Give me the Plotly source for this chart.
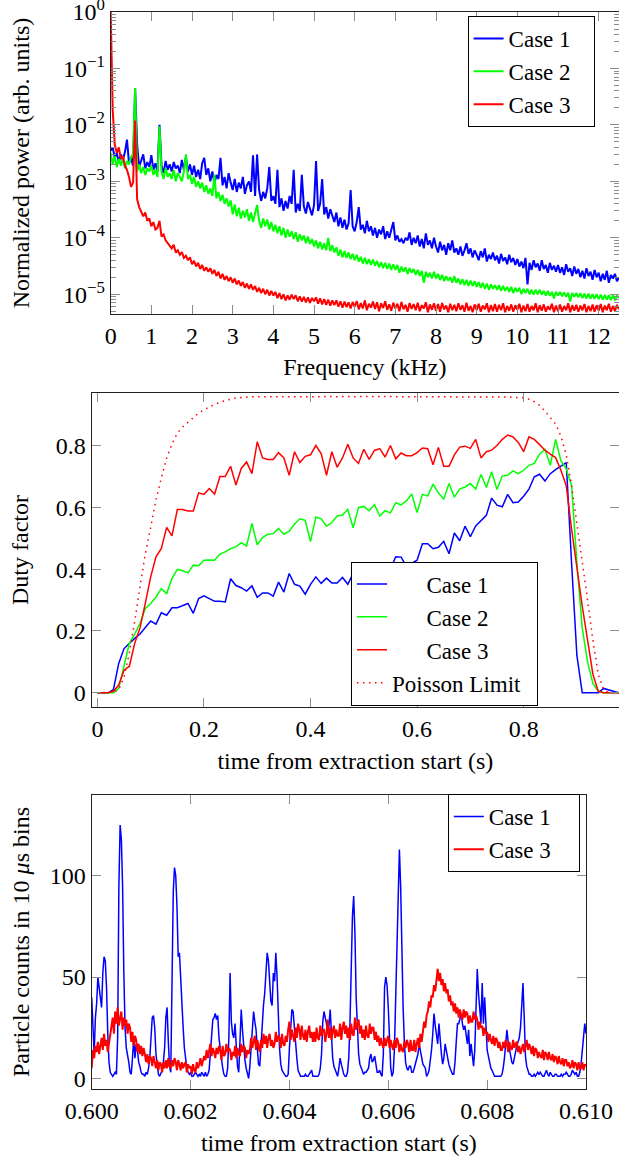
import numpy as np
import plotly.graph_objects as go

# ---------------- Panel 1: power spectra (0.05 kHz spacing) ----------------
case1_power = [
    3.5e-3, 4.0e-3, 2.6e-3, 3.2e-3, 2.2e-3, 3.0e-3, 2.4e-3, 3.3e-3, 5.5e-3, 2.1e-3,
    2.6e-3, 1.9e-3, 4.5e-2, 4.5e-3, 1.8e-3, 2.4e-3, 3.0e-3, 1.7e-3, 2.2e-3, 1.8e-3,
    2.9e-3, 1.6e-3, 2.1e-3, 1.5e-3, 1.0e-2, 1.9e-3, 1.4e-3, 2.3e-3, 1.6e-3, 2.0e-3,
    1.5e-3, 2.2e-3, 1.7e-3, 1.9e-3, 1.4e-3, 2.4e-3, 1.6e-3, 2.7e-3, 1.5e-3, 2.0e-3,
    1.3e-3, 1.9e-3, 1.2e-3, 1.6e-3, 1.1e-3, 2.1e-3, 2.6e-3, 1.3e-3, 1.7e-3, 1.0e-3,
    1.5e-3, 9.0e-4, 1.3e-3, 1.1e-3, 2.6e-3, 8.5e-4, 1.2e-3, 7.5e-4, 1.4e-3, 9.5e-4,
    7.0e-4, 1.1e-3, 6.5e-4, 9.5e-4, 7.5e-4, 1.2e-3, 6.0e-4, 8.5e-4, 1.0e-3, 6.5e-4,
    2.9e-3, 5.5e-4, 3.0e-3, 7.0e-4, 4.5e-4, 6.5e-4, 5.0e-4, 7.5e-4, 1.8e-3, 4.5e-4,
    5.5e-4, 4.0e-4, 1.6e-3, 3.5e-4, 5.0e-4, 3.0e-4, 4.5e-4, 3.3e-4, 5.5e-4, 4.0e-4,
    1.6e-3, 2.8e-4, 4.0e-4, 3.0e-4, 1.3e-3, 3.6e-4, 2.7e-4, 4.3e-4, 3.1e-4, 2.5e-4,
    3.8e-4, 2.3e-3, 3.0e-4, 4.0e-4, 1.1e-3, 2.6e-4, 3.5e-4, 2.2e-4, 3.2e-4, 2.4e-4,
    1.9e-4, 2.8e-4, 1.6e-4, 2.3e-4, 1.5e-4, 2.1e-4, 1.4e-4, 1.8e-4, 7.0e-4, 1.6e-4,
    1.3e-4, 1.9e-4, 3.5e-4, 1.4e-4, 1.7e-4, 1.2e-4, 2.0e-4, 1.3e-4, 1.6e-4, 1.1e-4,
    1.5e-4, 1.0e-4, 1.4e-4, 1.15e-4, 1.6e-4, 9.5e-5, 1.3e-4, 1.0e-4, 1.4e-4, 1.9e-4,
    9.0e-5, 1.1e-4, 8.5e-5, 9.5e-5, 8.0e-5, 1.0e-4, 9.0e-5, 1.25e-4, 7.5e-5, 1.0e-4,
    8.0e-5, 1.1e-4, 7.0e-5, 9.5e-5, 6.5e-5, 1.2e-4, 7.5e-5, 9.0e-5, 6.5e-5, 1.0e-4,
    7.0e-5, 5.5e-5, 8.5e-5, 6.0e-5, 7.5e-5, 5.0e-5, 8.0e-5, 6.0e-5, 9.0e-5, 5.5e-5,
    6.5e-5, 5.0e-5, 7.0e-5, 4.8e-5, 6.0e-5, 8.0e-5, 5.2e-5, 6.5e-5, 4.5e-5, 6.0e-5,
    5.0e-5, 4.0e-5, 5.8e-5, 4.5e-5, 6.5e-5, 3.8e-5, 5.0e-5, 4.2e-5, 5.5e-5, 4.0e-5,
    4.8e-5, 3.5e-5, 5.2e-5, 3.9e-5, 4.5e-5, 3.4e-5, 5.0e-5, 3.7e-5, 4.4e-5, 3.3e-5,
    4.2e-5, 3.1e-5, 3.8e-5, 2.9e-5, 4.4e-5, 1.5e-5, 3.6e-5, 2.7e-5, 4.0e-5, 3.0e-5,
    3.5e-5, 2.6e-5, 4.0e-5, 2.8e-5, 3.3e-5, 2.4e-5, 3.6e-5, 2.7e-5, 3.2e-5, 2.5e-5,
    3.3e-5, 2.4e-5, 3.0e-5, 2.2e-5, 3.4e-5, 2.5e-5, 2.9e-5, 2.1e-5, 3.1e-5, 2.3e-5,
    2.8e-5, 2.0e-5, 2.6e-5, 1.9e-5, 2.9e-5, 2.1e-5, 2.5e-5, 1.8e-5, 2.7e-5, 2.0e-5,
    2.4e-5, 1.7e-5, 2.3e-5, 1.8e-5, 2.6e-5, 1.6e-5, 2.2e-5, 1.9e-5, 2.3e-5, 1.7e-5,
    2.0e-5,
]
case2_power = [
    3.2e-3, 2.0e-3, 2.8e-3, 1.8e-3, 2.5e-3, 1.9e-3, 2.6e-3, 1.7e-3, 2.3e-3, 2.0e-3,
    2.7e-3, 3.0e-3, 4.5e-2, 1.5e-3, 2.0e-3, 1.4e-3, 1.8e-3, 1.3e-3, 1.7e-3, 1.5e-3,
    1.9e-3, 1.3e-3, 1.6e-3, 1.2e-3, 9.5e-3, 1.5e-3, 1.1e-3, 1.7e-3, 1.2e-3, 1.4e-3,
    1.1e-3, 1.6e-3, 1.0e-3, 1.4e-3, 1.2e-3, 1.0e-3, 1.5e-3, 3.0e-3, 1.1e-3, 1.3e-3,
    9.0e-4, 1.2e-3, 8.0e-4, 1.0e-3, 7.5e-4, 9.5e-4, 6.5e-4, 8.5e-4, 6.0e-4, 7.5e-4,
    5.5e-4, 1.3e-3, 5.0e-4, 6.5e-4, 4.5e-4, 5.8e-4, 4.0e-4, 5.0e-4, 3.6e-4, 4.6e-4,
    2.6e-4, 3.9e-4, 2.4e-4, 3.4e-4, 2.2e-4, 3.0e-4, 2.3e-4, 3.2e-4, 2.0e-4, 2.8e-4,
    1.9e-4, 2.6e-4, 3.8e-4, 2.0e-4, 1.5e-4, 2.2e-4, 1.6e-4, 2.1e-4, 1.4e-4, 1.9e-4,
    1.3e-4, 1.7e-4, 1.2e-4, 1.6e-4, 1.1e-4, 1.5e-4, 1.0e-4, 1.4e-4, 1.05e-4, 1.3e-4,
    9.5e-5, 1.25e-4, 8.5e-5, 1.15e-4, 9.0e-5, 1.1e-4, 8.0e-5, 1.05e-4, 7.8e-5, 9.5e-5,
    7.0e-5, 9.0e-5, 6.5e-5, 8.5e-5, 6.2e-5, 8.0e-5, 6.0e-5, 1.0e-4, 5.8e-5, 7.4e-5,
    5.5e-5, 6.8e-5, 4.8e-5, 6.2e-5, 4.5e-5, 5.8e-5, 4.4e-5, 5.5e-5, 4.2e-5, 5.2e-5,
    4.0e-5, 5.0e-5, 3.8e-5, 4.6e-5, 3.5e-5, 4.4e-5, 3.4e-5, 4.2e-5, 3.3e-5, 4.1e-5,
    3.2e-5, 3.9e-5, 3.0e-5, 3.7e-5, 2.9e-5, 3.6e-5, 2.8e-5, 3.5e-5, 2.7e-5, 3.4e-5,
    2.7e-5, 3.3e-5, 2.4e-5, 3.1e-5, 2.5e-5, 3.0e-5, 2.3e-5, 2.9e-5, 2.4e-5, 2.8e-5,
    2.2e-5, 2.7e-5, 2.1e-5, 2.6e-5, 1.6e-5, 2.5e-5, 2.0e-5, 2.4e-5, 1.9e-5, 2.5e-5,
    1.9e-5, 2.3e-5, 1.8e-5, 2.2e-5, 1.7e-5, 2.1e-5, 1.75e-5, 2.0e-5, 1.6e-5, 2.1e-5,
    1.6e-5, 1.9e-5, 1.5e-5, 1.85e-5, 1.45e-5, 1.8e-5, 1.4e-5, 1.75e-5, 1.4e-5, 1.7e-5,
    1.35e-5, 1.65e-5, 1.3e-5, 1.6e-5, 1.25e-5, 1.55e-5, 1.2e-5, 1.5e-5, 1.25e-5, 1.45e-5,
    1.2e-5, 1.45e-5, 1.15e-5, 1.4e-5, 1.15e-5, 1.35e-5, 1.1e-5, 1.35e-5, 1.05e-5, 1.3e-5,
    1.1e-5, 1.3e-5, 1.0e-5, 1.25e-5, 1.05e-5, 1.25e-5, 1.0e-5, 1.2e-5, 9.8e-6, 1.2e-5,
    1.0e-5, 1.2e-5, 9.8e-6, 1.15e-5, 9.5e-6, 1.15e-5, 9.4e-6, 1.1e-5, 8.4e-6, 1.1e-5,
    9.5e-6, 1.1e-5, 9.2e-6, 1.08e-5, 9.0e-6, 1.06e-5, 7.4e-6, 1.05e-5, 9.0e-6, 1.05e-5,
    8.8e-6, 1.04e-5, 8.6e-6, 1.02e-5, 8.5e-6, 1.02e-5, 8.4e-6, 1.0e-5, 8.3e-6, 1.0e-5,
    8.2e-6, 9.8e-6, 8.0e-6, 9.7e-6, 8.0e-6, 9.6e-6, 7.9e-6, 9.5e-6, 7.8e-6, 9.4e-6,
    8.6e-6,
]
case3_power = [
    1.0, 1.8e-2, 4.5e-3, 3.2e-3, 4.0e-3, 2.5e-3, 2.8e-3, 1.9e-3, 1.6e-3, 1.2e-3,
    8.0e-4, 9.5e-4, 1.2e-2, 4.8e-4, 3.5e-4, 2.9e-4, 2.4e-4, 2.8e-4, 2.0e-4, 2.2e-4,
    1.6e-4, 1.9e-4, 1.4e-4, 1.5e-4, 2.0e-4, 1.05e-4, 1.15e-4, 9.0e-5, 8.0e-5, 7.2e-5,
    6.5e-5, 7.5e-5, 5.5e-5, 6.0e-5, 5.0e-5, 5.6e-5, 4.4e-5, 4.8e-5, 4.0e-5, 4.5e-5,
    3.4e-5, 3.9e-5, 3.1e-5, 3.6e-5, 2.8e-5, 3.3e-5, 2.6e-5, 3.0e-5, 2.5e-5, 2.9e-5,
    2.3e-5, 2.7e-5, 2.1e-5, 2.5e-5, 1.9e-5, 2.3e-5, 1.8e-5, 2.1e-5, 1.7e-5, 2.0e-5,
    1.6e-5, 1.9e-5, 1.5e-5, 1.75e-5, 1.4e-5, 1.65e-5, 1.3e-5, 1.55e-5, 1.25e-5, 1.5e-5,
    1.2e-5, 1.4e-5, 1.1e-5, 1.3e-5, 1.05e-5, 1.25e-5, 1.0e-5, 1.2e-5, 9.5e-6, 1.15e-5,
    9.5e-6, 1.1e-5, 8.5e-6, 1.05e-5, 8.2e-6, 1.0e-5, 7.8e-6, 9.5e-6, 8.0e-6, 9.8e-6,
    8.2e-6, 9.6e-6, 7.5e-6, 9.2e-6, 7.4e-6, 9.0e-6, 7.2e-6, 8.8e-6, 7.0e-6, 8.6e-6,
    7.5e-6, 8.8e-6, 6.8e-6, 8.5e-6, 6.6e-6, 8.2e-6, 6.5e-6, 8.0e-6, 6.3e-6, 7.8e-6,
    6.4e-6, 7.8e-6, 6.0e-6, 7.5e-6, 5.8e-6, 7.4e-6, 5.9e-6, 7.2e-6, 5.6e-6, 7.3e-6,
    6.0e-6, 7.6e-6, 5.4e-6, 7.0e-6, 5.6e-6, 7.8e-6, 5.2e-6, 6.8e-6, 5.8e-6, 7.4e-6,
    5.5e-6, 7.2e-6, 5.0e-6, 6.9e-6, 5.7e-6, 7.5e-6, 5.3e-6, 6.6e-6, 5.1e-6, 7.1e-6,
    5.6e-6, 6.8e-6, 5.0e-6, 7.3e-6, 5.4e-6, 6.5e-6, 4.9e-6, 7.0e-6, 5.5e-6, 6.7e-6,
    5.2e-6, 7.1e-6, 5.0e-6, 6.4e-6, 5.6e-6, 7.2e-6, 4.8e-6, 6.6e-6, 5.3e-6, 6.9e-6,
    5.1e-6, 6.7e-6, 4.9e-6, 7.0e-6, 5.4e-6, 6.3e-6, 4.8e-6, 6.8e-6, 5.2e-6, 6.5e-6,
    5.0e-6, 6.9e-6, 5.3e-6, 6.4e-6, 4.9e-6, 7.1e-6, 5.1e-6, 6.2e-6, 4.8e-6, 6.6e-6,
    5.2e-6, 6.8e-6, 4.9e-6, 6.3e-6, 5.4e-6, 6.9e-6, 4.8e-6, 6.4e-6, 5.0e-6, 6.7e-6,
    4.9e-6, 6.5e-6, 5.2e-6, 6.9e-6, 4.8e-6, 6.2e-6, 5.1e-6, 6.6e-6, 4.9e-6, 6.4e-6,
    5.3e-6, 6.8e-6, 4.8e-6, 6.3e-6, 5.0e-6, 6.7e-6, 4.9e-6, 6.2e-6, 5.2e-6, 6.9e-6,
    4.8e-6, 6.4e-6, 5.1e-6, 6.6e-6, 4.9e-6, 6.1e-6, 5.3e-6, 6.8e-6, 4.8e-6, 6.3e-6,
    5.0e-6, 6.6e-6, 4.9e-6, 6.2e-6, 5.2e-6, 6.9e-6, 4.8e-6, 6.4e-6, 5.1e-6, 6.5e-6,
    4.9e-6, 6.3e-6, 5.2e-6, 6.7e-6, 4.8e-6, 6.2e-6, 5.0e-6, 6.6e-6, 4.9e-6, 6.4e-6,
    5.1e-6, 6.7e-6, 4.8e-6, 6.3e-6, 5.2e-6, 6.8e-6, 4.9e-6, 6.2e-6, 5.0e-6, 6.5e-6,
    5.4e-6,
]
freq_khz = np.arange(len(case1_power)) * 0.05

# ---------------- Panel 2: duty factor (0.01 s spacing) ----------------
case1_duty = [
    0, 0, 0, 0.01, 0.095, 0.143, 0.16, 0.176, 0.19, 0.211,
    0.232, 0.222, 0.259, 0.251, 0.275, 0.275, 0.281, 0.289, 0.257, 0.305,
    0.314, 0.305, 0.296, 0.296, 0.294, 0.369, 0.347, 0.34, 0.329, 0.346,
    0.309, 0.323, 0.323, 0.313, 0.358, 0.326, 0.386, 0.351, 0.345, 0.319,
    0.351, 0.375, 0.354, 0.371, 0.355, 0.355, 0.373, 0.351, 0.386, 0.404,
    0.388, 0.373, 0.417, 0.417, 0.402, 0.401, 0.44, 0.439, 0.409, 0.418,
    0.429, 0.482, 0.482, 0.466, 0.471, 0.49, 0.45, 0.517, 0.492, 0.539,
    0.505, 0.54, 0.556, 0.574, 0.63, 0.607, 0.602, 0.642, 0.615, 0.617,
    0.636, 0.659, 0.699, 0.707, 0.685, 0.709, 0.722, 0.733, 0.745, 0.42,
    0.12, 0, 0, 0, 0, 0.014, 0.008, 0.004, 0,
]
case2_duty = [
    0, 0, 0, 0, 0.014, 0.09, 0.16, 0.19, 0.224, 0.273,
    0.289, 0.31, 0.337, 0.321, 0.37, 0.399, 0.395, 0.388, 0.413, 0.411,
    0.429, 0.43, 0.429, 0.449, 0.456, 0.466, 0.472, 0.486, 0.475, 0.548,
    0.479, 0.502, 0.513, 0.515, 0.532, 0.513, 0.523, 0.546, 0.563, 0.558,
    0.489, 0.569, 0.563, 0.539, 0.551, 0.572, 0.575, 0.593, 0.534, 0.599,
    0.603, 0.589, 0.609, 0.572, 0.589, 0.582, 0.615, 0.608, 0.621, 0.643,
    0.583, 0.642, 0.637, 0.675, 0.647, 0.626, 0.677, 0.633, 0.659, 0.666,
    0.677, 0.659, 0.706, 0.664, 0.715, 0.658, 0.702, 0.704, 0.718, 0.709,
    0.72, 0.736, 0.742, 0.772, 0.788, 0.736, 0.82, 0.75, 0.725, 0.67,
    0.42, 0.21, 0.1, 0.03, 0.005, 0, 0, 0, 0,
]
case3_duty = [
    0, 0, 0, 0.005, 0.025, 0.073, 0.086, 0.16, 0.21, 0.29,
    0.375, 0.44, 0.467, 0.535, 0.508, 0.593, 0.593, 0.588, 0.588, 0.647,
    0.642, 0.661, 0.643, 0.70, 0.70, 0.733, 0.672, 0.726, 0.747, 0.709,
    0.812, 0.76, 0.755, 0.755, 0.777, 0.76, 0.704, 0.78, 0.745, 0.765,
    0.77, 0.80, 0.774, 0.704, 0.78, 0.73, 0.76, 0.804, 0.76, 0.742,
    0.788, 0.755, 0.784, 0.79, 0.763, 0.80, 0.757, 0.776, 0.767, 0.767,
    0.777, 0.792, 0.79, 0.738, 0.794, 0.733, 0.733, 0.77, 0.795, 0.798,
    0.791, 0.82, 0.76, 0.78, 0.785, 0.80, 0.82, 0.834, 0.828, 0.81,
    0.78, 0.828, 0.82, 0.803, 0.785, 0.772, 0.761, 0.72, 0.67, 0.53,
    0.40, 0.28, 0.17, 0.06, 0.005, 0, 0, 0, 0,
]
poisson_limit = [
    0, 0, 0, 0.002, 0.01, 0.05, 0.13, 0.23, 0.345, 0.45,
    0.535, 0.625, 0.695, 0.76, 0.805, 0.84, 0.86, 0.875, 0.893, 0.905,
    0.916, 0.925, 0.933, 0.94, 0.946, 0.95, 0.954, 0.956, 0.957, 0.958,
    0.958, 0.959, 0.958, 0.958, 0.959, 0.958, 0.958, 0.959, 0.958, 0.958,
    0.959, 0.958, 0.958, 0.959, 0.959, 0.958, 0.959, 0.959, 0.958, 0.959,
    0.959, 0.959, 0.958, 0.959, 0.958, 0.959, 0.958, 0.958, 0.959, 0.958,
    0.957, 0.957, 0.958, 0.957, 0.957, 0.958, 0.957, 0.957, 0.958, 0.957,
    0.957, 0.958, 0.957, 0.957, 0.958, 0.957, 0.957, 0.957, 0.956, 0.956,
    0.954, 0.95, 0.942, 0.93, 0.912, 0.89, 0.87, 0.83, 0.77, 0.67,
    0.55, 0.43, 0.30, 0.17, 0.06, 0.01, 0, 0, 0,
]
duty_time_s = np.arange(len(case1_duty)) * 0.01

# ---------------- Panel 3: counts in 10 us bins (sampled every 25 us) ----------------
case1_counts = [
    40, 20, 12, 30, 37, 50, 44, 40, 35, 52, 60, 58, 45, 22, 8, 3,
    2, 1, 2, 3, 2, 20, 95, 125, 118, 95, 52, 25, 15, 12, 8, 3,
    2, 10, 20, 10, 17, 14, 8, 6, 3, 2, 2, 1, 3, 2, 5, 10,
    22, 30, 31, 25, 12, 6, 2, 1, 3, 4, 8, 15, 30, 35, 18, 6,
    3, 50, 92, 104, 100, 85, 60, 62, 48, 36, 25, 15, 8, 5, 3, 2,
    3, 1, 1, 2, 3, 2, 1, 2, 1, 3, 2, 1, 3, 1, 2, 4,
    12, 22, 29, 30, 32, 29, 31, 20, 14, 8, 5, 2, 1, 1, 5, 20,
    52, 28, 22, 20, 27, 16, 6, 3, 19, 34, 24, 15, 9, 5, 3, 0,
    6, 14, 26, 33, 28, 24, 15, 7, 6, 17, 26, 36, 42, 50, 62, 58,
    45, 38, 36, 52, 48, 62, 50, 30, 15, 7, 4, 3, 2, 1, 1, 2,
    15, 28, 34, 33, 24, 15, 10, 4, 2, 1, 1, 1, 1, 2, 1, 1,
    2, 3, 4, 1, 1, 1, 1, 1, 2, 5, 12, 28, 33, 30, 27, 22,
    26, 34, 20, 10, 6, 4, 3, 1, 5, 10, 7, 4, 2, 1, 1, 3,
    10, 27, 55, 80, 90, 72, 40, 20, 12, 7, 5, 3, 2, 3, 3, 4,
    5, 10, 12, 8, 9, 11, 6, 3, 3, 4, 2, 1, 12, 45, 50, 46,
    35, 20, 5, 1, 3, 15, 40, 70, 93, 113, 95, 60, 35, 18, 8, 5,
    4, 6, 6, 3, 3, 5, 7, 10, 12, 17, 14, 10, 7, 6, 5, 1,
    2, 4, 8, 14, 22, 32, 26, 20, 17, 27, 18, 12, 7, 10, 17, 13,
    10, 7, 5, 3, 2, 2, 8, 18, 27, 27, 30, 32, 27, 24, 26, 20,
    17, 24, 11, 17, 10, 6, 14, 35, 54, 42, 35, 27, 47, 27, 40, 22,
    14, 11, 7, 5, 4, 2, 1, 1, 1, 1, 1, 1, 2, 5, 10, 20,
    24, 18, 14, 11, 8, 7, 10, 14, 16, 18, 20, 25, 35, 47, 30, 11,
    6, 4, 2, 2, 1, 1, 2, 1, 2, 3, 2, 3, 2, 1, 1, 3,
    4, 2, 1, 3, 2, 1, 1, 2, 2, 1, 1, 1, 2, 1, 2, 2,
    3, 2, 1, 1, 2, 4, 3, 2, 3, 1, 1, 3, 7, 14, 24, 27,
    22,
]
case3_counts = [
    5, 14, 10, 16, 13, 18, 12, 17, 20, 14, 22, 16, 19, 13, 17, 21,
    24, 30, 22, 33, 27, 35, 26, 31, 33, 24, 30, 26, 29, 22, 27, 25,
    18, 23, 16, 21, 19, 13, 17, 12, 16, 11, 15, 12, 8, 12, 7, 11,
    10, 6, 11, 8, 5, 9, 4, 8, 7, 3, 8, 5, 9, 5, 10, 6,
    5, 9, 6, 10, 8, 4, 9, 7, 4, 8, 5, 7, 8, 3, 7, 5,
    6, 2, 7, 4, 3, 8, 5, 7, 10, 6, 9, 11, 9, 14, 10, 13,
    17, 11, 15, 13, 10, 15, 12, 16, 14, 9, 16, 11, 12, 17, 13, 15,
    14, 9, 13, 11, 16, 10, 15, 12, 11, 17, 13, 16, 15, 10, 14, 12,
    14, 20, 15, 18, 21, 14, 19, 16, 13, 19, 15, 22, 17, 21, 15, 20,
    22, 16, 19, 15, 17, 23, 18, 21, 20, 15, 22, 17, 16, 21, 18, 24,
    28, 19, 24, 21, 18, 25, 20, 27, 24, 19, 26, 21, 19, 24, 18, 23,
    26, 20, 23, 18, 23, 18, 25, 20, 19, 26, 21, 24, 24, 18, 22, 29,
    20, 25, 19, 23, 26, 20, 24, 21, 21, 27, 19, 25, 28, 22, 26, 20,
    25, 19, 27, 22, 21, 30, 24, 27, 29, 22, 26, 20, 24, 19, 26, 21,
    20, 27, 22, 25, 25, 19, 23, 18, 21, 16, 20, 17, 15, 20, 16, 19,
    21, 15, 19, 16, 14, 19, 15, 20, 18, 13, 17, 14, 13, 18, 15, 19,
    17, 13, 19, 14, 14, 19, 13, 17, 20, 15, 22, 18, 22, 28, 25, 31,
    33, 38, 35, 41, 40, 46, 43, 50, 54, 48, 52, 46, 49, 43, 47, 42,
    44, 38, 41, 36, 38, 33, 37, 32, 35, 30, 34, 31, 29, 34, 30, 33,
    32, 27, 31, 28, 28, 33, 29, 31, 29, 24, 28, 25, 26, 21, 25, 22,
    23, 18, 22, 19, 17, 21, 16, 20, 19, 15, 18, 14, 14, 18, 15, 19,
    17, 13, 18, 15, 14, 19, 15, 17, 18, 13, 16, 12, 14, 17, 13, 16,
    19, 14, 17, 15, 12, 16, 11, 15, 14, 10, 13, 11, 10, 14, 9, 13,
    12, 9, 13, 10, 9, 12, 8, 11, 10, 7, 11, 8, 7, 10, 6, 9,
    9, 6, 8, 5, 6, 9, 5, 8, 7, 4, 8, 5, 5, 8, 4, 7,
    6,
]
counts_time_s = 0.600 + np.arange(len(case1_counts)) * 25e-6

# ---------------- styling constants ----------------
BLUE, GREEN, RED = "#0000ff", "#00ff00", "#ff0000"
FONT = "Liberation Serif"
FS = 24
LFS = 23
W, H = 619, 1156
NB = "\u00a0"

fig = go.Figure()

# panel 1
for name, vals, col in [("Case 1", case1_power, BLUE), ("Case 2", case2_power, GREEN), ("Case 3", case3_power, RED)]:
    fig.add_trace(go.Scatter(x=freq_khz, y=vals, mode="lines", name=name + NB * 3,
                             line=dict(color=col, width=2.0), xaxis="x", yaxis="y", legend="legend"))

# panel 2
pad = NB * 6
for name, vals, col in [("Case 1", case1_duty, BLUE), ("Case 2", case2_duty, GREEN), ("Case 3", case3_duty, RED)]:
    fig.add_trace(go.Scatter(x=duty_time_s, y=vals, mode="lines", name=pad + name,
                             line=dict(color=col, width=1.5), xaxis="x2", yaxis="y2", legend="legend2"))
fig.add_trace(go.Scatter(x=duty_time_s, y=poisson_limit, mode="lines", name="Poisson Limit" + NB * 2,
                         line=dict(color=RED, width=1.5, dash="1.5px,4.5px"), xaxis="x2", yaxis="y2", legend="legend2"))

# panel 3
for name, vals, col, wd in [("Case 1", case1_counts, BLUE, 1.5), ("Case 3", case3_counts, RED, 2.0)]:
    fig.add_trace(go.Scatter(x=counts_time_s, y=vals, mode="lines", name=name + NB * 4,
                             line=dict(color=col, width=wd), xaxis="x3", yaxis="y3", legend="legend3"))

axis_common = dict(showline=True, linecolor="#222222", linewidth=1.2, mirror="allticks",
                   ticks="inside", ticklen=9, tickwidth=1.2, tickcolor="#8c8c8c", automargin=False,
                   ticklabeloverflow="allow",
                   showgrid=False, zeroline=False, tickfont=dict(size=FS, family=FONT, color="black"))

def px_x(p):
    return p / W

def px_y(p):
    return 1 - p / H

minor_log = [m * 10.0 ** e for e in range(-6, 0) for m in range(2, 10)]
title_font = dict(size=FS, family=FONT, color="black")
legend_common = dict(xanchor="left", bgcolor="white", bordercolor="black",
                     borderwidth=1, font=dict(size=LFS, family=FONT, color="black"))

fig.update_layout(
    width=W, height=H, autosize=False,
    margin=dict(l=0, r=0, t=0, b=0),
    paper_bgcolor="white", plot_bgcolor="white",
    font=dict(family=FONT, size=FS, color="black"),
    showlegend=True,
    xaxis=dict(axis_common, domain=[px_x(110.7), 1.0], range=[0, 12.5], anchor="y",
               tickvals=list(range(0, 13)),
               title=dict(text="Frequency (kHz)", standoff=10, font=title_font)),
    yaxis=dict(axis_common, domain=[px_y(314), px_y(12)], type="log", range=[-5.35, 0.0005], anchor="x",
               tickvals=[1, 1e-1, 1e-2, 1e-3, 1e-4, 1e-5],
               ticktext=["10<sup>0</sup>", "10<sup>−1</sup>", "10<sup>−2</sup>", "10<sup>−3</sup>",
                         "10<sup>−4</sup>", "10<sup>−5</sup>"],
               minor=dict(tickvals=minor_log, ticks="inside", ticklen=5, tickwidth=1, tickcolor="#8c8c8c", showgrid=False),
               title=dict(text="Normalized power (arb. units)", standoff=26, font=title_font)),
    xaxis2=dict(axis_common, domain=[px_x(91.7), 1.0], range=[-0.0107, 0.979], anchor="y2",
                tickvals=[0, 0.2, 0.4, 0.6, 0.8], ticktext=["0", "0.2", "0.4", "0.6", "0.8"],
                title=dict(text="time from extraction start (s)", standoff=10, font=title_font)),
    yaxis2=dict(axis_common, domain=[px_y(707.3), px_y(392.7)], range=[-0.047, 0.971], anchor="x2",
                tickvals=[0, 0.2, 0.4, 0.6, 0.8], ticktext=["0", "0.2", "0.4", "0.6", "0.8"],
                title=dict(text="Duty factor", standoff=20, font=title_font)),
    xaxis3=dict(axis_common, domain=[px_x(91.7), px_x(586)], range=[0.600, 0.610], anchor="y3",
                tickvals=[0.600, 0.602, 0.604, 0.606, 0.608, 0.610],
                ticktext=["0.600", "0.602", "0.604", "0.606", "0.608", "0.610"],
                title=dict(text="time from extraction start (s)", standoff=10, font=title_font)),
    yaxis3=dict(axis_common, domain=[px_y(1089.3), px_y(794.7)], range=[-5.4, 140], anchor="x3",
                tickvals=[0, 50, 100], ticktext=["0", "50", "100"],
                title=dict(text="Particle counts in 10 <i>μ</i>s bins", standoff=13, font=title_font)),
    legend=dict(legend_common, x=px_x(467.6), y=px_y(71.5), yanchor="middle"),
    legend2=dict(legend_common, x=px_x(351), y=px_y(705.5), yanchor="bottom"),
    legend3=dict(legend_common, x=px_x(447.8), y=px_y(833), yanchor="middle"),
)

fig.write_html("out.html", config={"displayModeBar": False},
               post_script="document.body.style.margin='0';")
